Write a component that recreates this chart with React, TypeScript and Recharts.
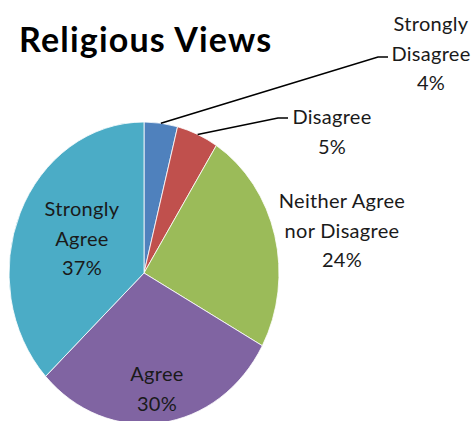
import { PieChart, Pie, Cell } from "recharts";

const categories = ["Strongly Disagree", "Disagree", "Neither Agree nor Disagree", "Agree", "Strongly Agree"];
const shares = [4, 5, 24, 30, 37];
const labelLines = [["Strongly", "Disagree"], ["Disagree"], ["Neither Agree", "nor Disagree"], ["Agree"], ["Strongly", "Agree"]];
const colors = ["#4F81BD", "#C0504D", "#9BBB59", "#8064A2", "#4BACC6"];

const data = categories.map((name, i) => ({ name, value: shares[i] }));

// Excel draws this pie slightly taller than wide
const RX = 135;
const RY = 151;
const RAD = Math.PI / 180;

// where each data label sits (first line centre), plus optional leader elbow
const labelLayout = [
  { x: 431, y: 23, elbow: [378, 57, 388] },
  { x: 332, y: 116, elbow: [278, 118, 288] },
  { x: 342, y: 200 },
  { x: 157, y: 373 },
  { x: 82, y: 208 },
];
const LINE_H = 29.5;

function EllipseSector(props: any) {
  const { cx, cy, startAngle, endAngle, fill } = props;
  const pt = (a: number) => [cx + RX * Math.cos(a * RAD), cy - RY * Math.sin(a * RAD)];
  const [x1, y1] = pt(startAngle);
  const [x2, y2] = pt(endAngle);
  const large = Math.abs(startAngle - endAngle) > 180 ? 1 : 0;
  const d = `M${cx},${cy} L${x1},${y1} A${RX},${RY} 0 ${large} 1 ${x2},${y2} Z`;
  return <path d={d} fill={fill} stroke="#ffffff" strokeWidth={0.8} />;
}

function renderLabel(props: any) {
  const { cx, cy, midAngle, index, value } = props;
  const lay = labelLayout[index];
  const lines = [...labelLines[index], `${value}%`];
  let leader = null;
  if (lay.elbow) {
    const sx = cx + RX * Math.cos(midAngle * RAD);
    const sy = cy - RY * Math.sin(midAngle * RAD);
    const [ex, ey, hx] = lay.elbow;
    leader = <polyline points={`${sx},${sy} ${ex},${ey} ${hx},${ey}`} fill="none" stroke="#000" strokeWidth={1.6} />;
  }
  return (
    <g key={`lbl-${index}`}>
      {leader}
      {lines.map((t, j) => (
        <text key={j} x={lay.x} y={lay.y + j * LINE_H} textAnchor="middle" dominantBaseline="central"
          fontFamily="Lato, 'Open Sans', sans-serif" fontSize={20} letterSpacing={0.3} fill="#1a1a1a">
          {t}
        </text>
      ))}
    </g>
  );
}

export default function App() {
  return (
    <div style={{ position: "absolute", left: 0, top: 0, width: 473, height: 421, background: "#fff", overflow: "hidden" }}>
      <div style={{ position: "absolute", left: 19, top: 19, fontFamily: "Lato, sans-serif", fontWeight: 700, fontSize: 34, lineHeight: "40px", color: "#000", letterSpacing: 1.2 }}>
        Religious Views
      </div>
      <PieChart width={473} height={421} margin={{ top: 0, right: 0, bottom: 0, left: 0 }} style={{ position: "absolute", left: 0, top: 0 }}>
        <Pie
          data={data}
          dataKey="value"
          nameKey="name"
          cx={144}
          cy={273}
          outerRadius={RX}
          startAngle={90}
          endAngle={-270}
          shape={EllipseSector}
          label={renderLabel}
          labelLine={false}
          isAnimationActive={false}
        >
          {data.map((d, i) => (
            <Cell key={d.name} fill={colors[i]} />
          ))}
        </Pie>
      </PieChart>
    </div>
  );
}
